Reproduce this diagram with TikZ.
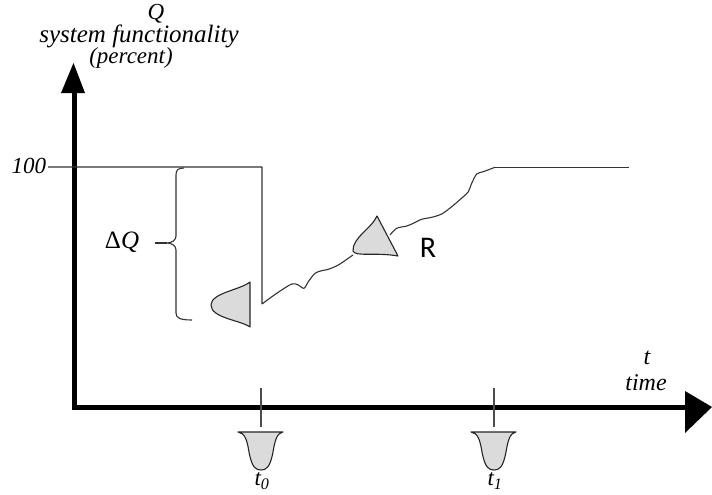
\documentclass[tikz,border=0pt]{standalone}
\usepackage{fontspec}
\setmainfont{Liberation Serif}
\newfontfamily\rfont{Carlito}
\begin{document}
\begin{tikzpicture}[x=1pt,y=-1pt,
  thin line/.style={draw=black!80, line width=1.1pt, line join=round},
  axisline/.style={draw=black, line width=5pt},
  bellshape/.style={draw=black!85, fill=black!14, line width=1.1pt, line join=round},
  lbl/.style={font=\fontsize{23}{26}\selectfont\itshape, inner sep=0pt},
]
\useasboundingbox (0,0) rectangle (712,495);

% axes
\coordinate (O) at (74,407);
\coordinate (Ytop) at (74,90);
\coordinate (Xend) at (688,407);
\draw[axisline] (Ytop) -- (O) -- (Xend);
\fill (61,93) -- (73.5,63) -- (85,93) -- cycle;
\fill (685,391) -- (712,407) -- (685,433) -- cycle;

% labels of axes
\node[lbl] (Q) at (156,14) {Q};
\node[lbl, font=\fontsize{25}{28}\selectfont\itshape] (sf) at (139,36) {system functionality};
\node[lbl] (pc) at (131,58) {(percent)};
\node[lbl, font=\fontsize{24}{26}\selectfont\itshape] (t) at (647,358) {t};
\node[lbl, font=\fontsize{24}{26}\selectfont\itshape] (time) at (646,383) {time};
\node[lbl] (hundred) at (29,166) {100};

% functionality line
\coordinate (L0) at (48,167);
\coordinate (L1) at (262,167);
\coordinate (L2) at (262,304);
\draw[thin line] (L0) -- (L1) -- (L2)
  plot[smooth, tension=0.5] coordinates {(262,304) (276.7,293.3) (291.7,284) (298.3,285) (304,288.3) (308.3,281.7) (315,273.3) (321.7,270.7) (328.3,269.3) (338.3,265) (353,255)};
\draw[thin line] plot[smooth, tension=0.5] coordinates {(390,235) (396.7,228.3) (406.7,226) (413.3,223.3) (421.7,219.3) (431.7,217.3) (441.7,214) (451.7,206.7) (463.3,196.7) (468.3,191.7) (471.7,183.3) (476.7,174) (483.3,171.7) (495,167.3)};
\coordinate (E0) at (495,167.3);
\coordinate (E1) at (629,167.3);
\draw[thin line] (E0) -- (E1);

% R bell
\draw[bellshape] (377,216) .. controls (372,228) and (352,238) .. (353,251)
  .. controls (355,257) and (375,252) .. (398,256) -- cycle;
\node[font=\fontsize{30}{32}\rfont, inner sep=0pt] (R) at (428,248) {R};

% left bell near drop
\draw[bellshape] (250,282) .. controls (240,290) and (211,293) .. (211,305)
  .. controls (211,318) and (240,320) .. (250,327) -- cycle;

% Delta Q brace
\coordinate (Bt) at (184,168);
\coordinate (Bb) at (192,320);
\draw[thin line] (Bt) .. controls (178,168) and (176,170) .. (176,175)
  -- (176,236) .. controls (176,240) and (172,243) .. (167,243)
  .. controls (172,243) and (176,246) .. (176,250)
  -- (176,313) .. controls (176,318) and (180,320) .. (Bb);
\coordinate (Tk0) at (155,243);
\coordinate (Tk1) at (167,243);
\draw[thin line] (Tk0) -- (Tk1);
\node[font=\fontsize{25}{27}\selectfont, inner sep=0pt] (dQ) at (122,242) {Δ\textit{Q}};

% ticks on time axis
\coordinate (T0a) at (261,388);
\coordinate (T0b) at (261,427);
\coordinate (T1a) at (494,388);
\coordinate (T1b) at (494,427);
\draw[thin line, draw=black!70] (T0a) -- (T0b);
\draw[thin line, draw=black!70] (T1a) -- (T1b);

% bells below axis
\foreach \cx/\nm in {261/b0, 494/b1}{
  \draw[bellshape] (\cx-23,432) -- (\cx+22,432)
    .. controls (\cx+16,433) and (\cx+14,440) .. (\cx+12,452)
    .. controls (\cx+9,468) and (\cx+5,470) .. (\cx,470)
    .. controls (\cx-5,470) and (\cx-9,468) .. (\cx-12,452)
    .. controls (\cx-14,440) and (\cx-16,433) .. (\cx-23,432) -- cycle;
}
\node[lbl] (t0) at (262,481) {t\textsubscript{\textit{0}}};
\node[lbl] (t1) at (495,481) {t\textsubscript{\textit{1}}};
\end{tikzpicture}
\end{document}
